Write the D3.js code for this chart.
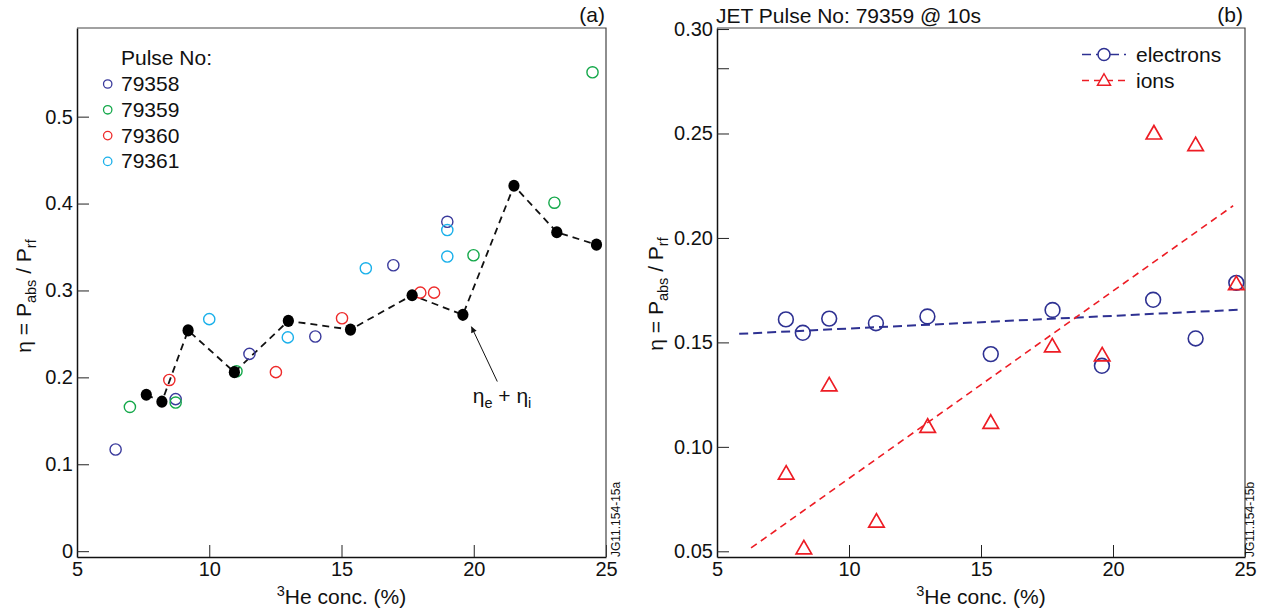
<!DOCTYPE html>
<html lang="en">
<head>
    <meta charset="UTF-8" />
    <title>3He absorption efficiency</title>
    <script src="https://d3js.org/d3.v7.min.js"></script>
    <style>
        body { margin: 0; background: #fff; }
        text { font-family: "Liberation Sans", Arial, Helvetica, sans-serif; fill: #111; }
    </style>
</head>
<body>
    <script>
        var w = 1277;
        var h = 611;

        // ---- panel (a) data ----
        var pulses = ["79358", "79359", "79360", "79361"];
        var pulseColors = ["#3a3a9c", "#14a84a", "#ee2a2a", "#1ab0ea"];
        var x79358 = [6.46, 8.73, 11.52, 14.01, 16.96, 19.0];
        var y79358 = [0.117, 0.175, 0.227, 0.247, 0.329, 0.379];
        var x79359 = [7.0, 8.73, 11.03, 19.99, 23.05, 24.49];
        var y79359 = [0.166, 0.171, 0.207, 0.3405, 0.401, 0.551];
        var x79360 = [8.49, 12.52, 15.02, 17.98, 18.50];
        var y79360 = [0.197, 0.206, 0.268, 0.2975, 0.2975];
        var x79361 = [10.0, 12.97, 15.92, 19.0, 19.0];
        var y79361 = [0.267, 0.246, 0.3255, 0.3695, 0.339];
        // total eta = eta_e + eta_i
        var xEta = [7.62, 8.21, 9.20, 10.95, 12.99, 15.34, 17.67, 19.59, 21.52, 23.14, 24.64];
        var yEta = [0.180, 0.172, 0.254, 0.206, 0.265, 0.255, 0.2945, 0.272, 0.4205, 0.367, 0.3527];
        var yTicksA = [0, 0.1, 0.2, 0.3, 0.4, 0.5];

        // ---- panel (b) data ----
        var xElec = [7.61, 8.25, 9.25, 11.02, 12.97, 15.37, 17.71, 19.58, 21.52, 23.13, 24.67];
        var yElec = [0.161, 0.1546, 0.1614, 0.1592, 0.1624, 0.1444, 0.1655, 0.1388, 0.1704, 0.1519, 0.1785];
        var xIons = [7.62, 8.29, 9.25, 11.04, 12.98, 15.37, 17.70, 19.59, 21.55, 23.13, 24.67];
        var yIons = [0.0878, 0.052, 0.130, 0.0648, 0.1102, 0.1121, 0.1487, 0.1444, 0.2506, 0.245, 0.1785];
        // linear fits (end points)
        var fitElecX = [5.84, 24.73];
        var fitElecY = [0.1541, 0.1656];
        var fitIonsX = [6.29, 24.55];
        var fitIonsY = [0.0516, 0.2154];
        var yTicksB = [0.05, 0.10, 0.15, 0.20, 0.25, 0.30];
        var xTicks = [5, 10, 15, 20, 25];

        var blue = "#2e3192";
        var red = "#ed1c24";
        var fs = 21;      // main text size
        var fsTick = 20;  // tick labels
        var fsSub = 14.5; // subscripts

        var svg = d3.select("body")
            .append("svg")
            .attr("width", w)
            .attr("height", h);

        var defs = svg.append("defs");
        defs.append("marker")
            .attr("id", "arrow")
            .attr("viewBox", "0 0 10 10")
            .attr("refX", 10)
            .attr("refY", 5)
            .attr("markerWidth", 9)
            .attr("markerHeight", 6)
            .attr("markerUnits", "userSpaceOnUse")
            .attr("orient", "auto")
            .append("path")
            .attr("d", "M0,0 L10,5 L0,10 Z")
            .attr("fill", "#111");

        // zip helper
        function pts(xs, ys) {
            return xs.map(function(x, i) { return [x, ys[i]]; });
        }

        // draws box, axes, titles for one panel
        function panel(x0, x1, yDomain, yTicks, yFmt, extraTicks) {
            var g = svg.append("g");
            var x = d3.scaleLinear().domain([5, 25]).range([x0, x1]);
            var y = d3.scaleLinear().domain(yDomain).range([557, 28]);

            var xAxis = d3.axisBottom(x)
                .tickValues(xTicks)
                .tickSizeInner(-12)
                .tickSizeOuter(0)
                .tickPadding(5)
                .tickFormat(d3.format("d"));
            var yAxis = d3.axisLeft(y)
                .tickValues(yTicks)
                .tickSizeInner(-12)
                .tickSizeOuter(0)
                .tickPadding(4)
                .tickFormat(yFmt);

            g.append("g")
                .attr("transform", "translate(0,557)")
                .call(xAxis);
            g.append("g")
                .attr("transform", "translate(" + x0 + ",0)")
                .call(yAxis);
            g.selectAll(".tick text")
                .attr("font-size", fsTick)
                .attr("fill", "#111")
                .attr("font-family", "Liberation Sans, Arial, sans-serif");
            g.selectAll(".tick line").attr("stroke", "#222").attr("stroke-width", 1);
            g.selectAll(".domain").attr("stroke", "#111").attr("stroke-width", 1.5);

            // unlabelled extra ticks
            g.selectAll("line.extra")
                .data(extraTicks)
                .enter()
                .append("line")
                .attr("class", "extra")
                .attr("x1", x0).attr("x2", x0 + 12)
                .attr("y1", function(d) { return y(d); })
                .attr("y2", function(d) { return y(d); })
                .attr("stroke", "#222");

            // top and right frame
            g.append("path")
                .attr("d", "M" + x0 + ",28 H" + x1 + " V557")
                .attr("fill", "none")
                .attr("stroke", "#444")
                .attr("stroke-width", 1.2);

            // x title
            var xt = g.append("text")
                .attr("x", (x0 + x1) / 2)
                .attr("y", 604)
                .attr("text-anchor", "middle")
                .attr("font-size", fs);
            xt.append("tspan").attr("font-size", fsSub).attr("dy", -8).text("3");
            xt.append("tspan").attr("dy", 8).text("He conc. (%)");

            return { g: g, x: x, y: y };
        }

        // y title with subscripts, rotated
        function yTitle(cx, cy) {
            var t = svg.append("text")
                .attr("transform", "translate(" + cx + "," + cy + ") rotate(-90)")
                .attr("text-anchor", "middle")
                .attr("font-size", fs);
            t.append("tspan").text("η = P");
            t.append("tspan").attr("font-size", fsSub).attr("dy", 5).text("abs");
            t.append("tspan").attr("dy", -5).text(" / P");
            t.append("tspan").attr("font-size", fsSub).attr("dy", 5).text("rf");
        }

        function stamp(x, label) {
            svg.append("text")
                .attr("transform", "translate(" + x + ",557) rotate(-90)")
                .attr("font-size", 12)
                .text(label);
        }

        // ================= panel (a) =================
        var A = panel(77, 606, [-0.0067, 0.602], yTicksA,
            function(d) { return d === 0 ? "0" : d3.format(".1f")(d); }, []);
        yTitle(31, 296);
        stamp(620, "JG11.154-15a");

        svg.append("text")
            .attr("x", 605).attr("y", 22)
            .attr("text-anchor", "end")
            .attr("font-size", fs)
            .text("(a)");

        var pulseX = [x79358, x79359, x79360, x79361];
        var pulseY = [y79358, y79359, y79360, y79361];

        // dashed line through total eta
        var lineA = d3.line()
            .x(function(d) { return A.x(d[0]); })
            .y(function(d) { return A.y(d[1]); });

        A.g.append("path")
            .datum(pts(xEta, yEta))
            .attr("d", lineA)
            .attr("fill", "none")
            .attr("stroke", "#111")
            .attr("stroke-width", 1.8)
            .attr("stroke-dasharray", "7,5");

        // open circles per pulse
        pulses.forEach(function(p, k) {
            A.g.selectAll("circle.p" + p)
                .data(pts(pulseX[k], pulseY[k]))
                .enter()
                .append("circle")
                .attr("class", "p" + p)
                .attr("cx", function(d) { return A.x(d[0]); })
                .attr("cy", function(d) { return A.y(d[1]); })
                .attr("r", 5.6)
                .attr("fill", "none")
                .attr("stroke", pulseColors[k])
                .attr("stroke-width", 1.4);
        });

        A.g.selectAll("ellipse.eta")
            .data(pts(xEta, yEta))
            .enter()
            .append("ellipse")
            .attr("class", "eta")
            .attr("cx", function(d) { return A.x(d[0]); })
            .attr("cy", function(d) { return A.y(d[1]); })
            .attr("rx", 5.6)
            .attr("ry", 6.1)
            .attr("fill", "#000");

        // legend (a)
        svg.append("text")
            .attr("x", 121).attr("y", 65)
            .attr("font-size", fs)
            .text("Pulse No:");
        pulses.forEach(function(p, k) {
            var yy = 91 + k * 25.8;
            svg.append("circle")
                .attr("cx", 107.7).attr("cy", yy - 7)
                .attr("r", 4.2)
                .attr("fill", "none")
                .attr("stroke", pulseColors[k])
                .attr("stroke-width", 1.3);
            svg.append("text")
                .attr("x", 121).attr("y", yy)
                .attr("font-size", fs)
                .text(p);
        });

        // arrow + label
        svg.append("line")
            .attr("x1", A.x(20.89)).attr("y1", A.y(0.1952))
            .attr("x2", A.x(19.91)).attr("y2", A.y(0.2584))
            .attr("stroke", "#111")
            .attr("stroke-width", 1)
            .attr("marker-end", "url(#arrow)");
        var lab = svg.append("text")
            .attr("x", 502).attr("y", 403)
            .attr("text-anchor", "middle")
            .attr("font-size", fs);
        lab.append("tspan").text("η");
        lab.append("tspan").attr("font-size", fsSub).attr("dy", 5).text("e");
        lab.append("tspan").attr("dy", -5).text(" + η");
        lab.append("tspan").attr("font-size", fsSub).attr("dy", 5).text("i");

        // ================= panel (b) =================
        var B = panel(717, 1245, [0.04727, 0.3005], yTicksB, d3.format(".2f"), [0.281]);
        yTitle(663, 294);
        stamp(1254, "JG11.154-15b");

        svg.append("text")
            .attr("x", 716).attr("y", 22.5)
            .attr("font-size", fs)
            .text("JET Pulse No: 79359 @ 10s");
        svg.append("text")
            .attr("x", 1243).attr("y", 22)
            .attr("text-anchor", "end")
            .attr("font-size", fs)
            .text("(b)");

        var lineB = d3.line()
            .x(function(d) { return B.x(d[0]); })
            .y(function(d) { return B.y(d[1]); });

        B.g.append("path")
            .datum(pts(fitElecX, fitElecY))
            .attr("d", lineB)
            .attr("stroke", blue)
            .attr("stroke-width", 2)
            .attr("stroke-dasharray", "9,5");
        B.g.append("path")
            .datum(pts(fitIonsX, fitIonsY))
            .attr("d", lineB)
            .attr("stroke", red)
            .attr("stroke-width", 1.6)
            .attr("stroke-dasharray", "7,5");

        // triangle centred on its bounding box
        function tri(cx, cy, tw, th) {
            return "M" + cx + "," + (cy - th / 2) +
                " L" + (cx + tw / 2) + "," + (cy + th / 2) +
                " L" + (cx - tw / 2) + "," + (cy + th / 2) + " Z";
        }

        B.g.selectAll("circle.elec")
            .data(pts(xElec, yElec))
            .enter()
            .append("circle")
            .attr("class", "elec")
            .attr("cx", function(d) { return B.x(d[0]); })
            .attr("cy", function(d) { return B.y(d[1]); })
            .attr("r", 7.4)
            .attr("fill", "none")
            .attr("stroke", blue)
            .attr("stroke-width", 1.6);

        B.g.selectAll("path.ion")
            .data(pts(xIons, yIons))
            .enter()
            .append("path")
            .attr("class", "ion")
            .attr("d", function(d) { return tri(B.x(d[0]), B.y(d[1]), 15.5, 13.5); })
            .attr("fill", "none")
            .attr("stroke", red)
            .attr("stroke-width", 1.7);

        // legend (b)
        var legB = [
            { name: "electrons", color: blue, y: 54.5, dash: "9,5" },
            { name: "ions", color: red, y: 80.5, dash: "7,5" }
        ];
        legB.forEach(function(d, k) {
            svg.append("line")
                .attr("x1", 1082).attr("x2", 1126)
                .attr("y1", d.y).attr("y2", d.y)
                .attr("stroke", d.color)
                .attr("stroke-width", 1.6)
                .attr("stroke-dasharray", d.dash);
            if (k === 0) {
                svg.append("circle")
                    .attr("cx", 1104).attr("cy", d.y).attr("r", 6)
                    .attr("fill", "#fff")
                    .attr("stroke", d.color).attr("stroke-width", 1.5);
            } else {
                svg.append("path")
                    .attr("d", tri(1104, d.y - 1, 13, 11.5))
                    .attr("fill", "#fff")
                    .attr("stroke", d.color).attr("stroke-width", 1.5);
            }
            svg.append("text")
                .attr("x", 1136).attr("y", d.y + 7)
                .attr("font-size", fs)
                .text(d.name);
        });
    </script>
</body>
</html>
